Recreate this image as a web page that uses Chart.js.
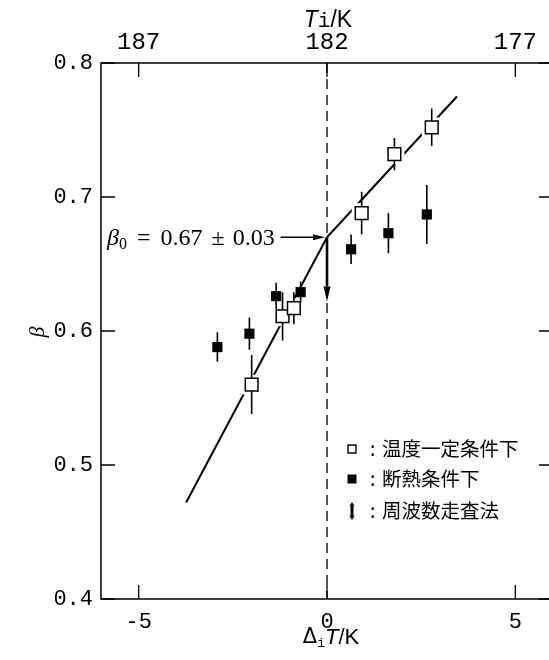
<!DOCTYPE html>
<html>
<head>
<meta charset="utf-8">
<script src="https://cdn.jsdelivr.net/npm/chart.js@4.4.1/dist/chart.umd.min.js"></script>
<style>
  html, body { margin: 0; padding: 0; overflow: hidden; background: #fff; }
</style>
</head>
<body>
<canvas id="grafica" width="553" height="660"></canvas>
<script>
//温度一定条件下 (cuadrados abiertos)
const constDT = [-2.00, -1.18, -0.88, 0.92, 1.79, 2.78];
const constBeta = [0.560, 0.611, 0.617, 0.688, 0.732, 0.752];
const constErr = [0.022, 0.018, 0.012, 0.016, 0.012, 0.014];

// 断熱条件下 (cuadrados llenos)
const adiaDT = [-2.91, -2.06, -1.35, -0.70, 0.64, 1.63, 2.65];
const adiaBeta = [0.588, 0.598, 0.626, 0.629, 0.661, 0.673, 0.687];
const adiaErr = [0.011, 0.012, 0.010, 0.008, 0.011, 0.015, 0.022];

// rectas de ajuste
const fitLowDT = [-3.74, 0];
const fitLowBeta = [0.472, 0.67];
const fitHighDT = [0, 3.45];
const fitHighBeta = [0.67, 0.775];

// beta0 y barrido de frecuencia
const beta0 = 0.67;
const beta0Err = 0.03;
const freqScanEnd = 0.622;

// ejes
const xTicks = [-5, 0, 5];
const yTicks = [0.4, 0.5, 0.6, 0.7, 0.8];
const Tcentro = 182;

const leyendaTextos = ["温度一定条件下", "断熱条件下", "周波数走査法"];

function puntos(xs, ys) {
  return xs.map((x, i) => ({ x: x, y: ys[i] }));
}

// barras de error como segmentos separados por huecos
function barras(xs, ys, es) {
  const d = [];
  xs.forEach((x, i) => {
    d.push({ x: x, y: ys[i] - es[i] });
    d.push({ x: x, y: ys[i] + es[i] });
    d.push({ x: x, y: null });
  });
  return d;
}

function flecha(ctx, x1, y1, x2, y2, largo, ancho, grosor) {
  const ang = Math.atan2(y2 - y1, x2 - x1);
  const bx = x2 - Math.cos(ang) * largo;
  const by = y2 - Math.sin(ang) * largo;
  ctx.save();
  ctx.lineWidth = grosor;
  ctx.beginPath();
  ctx.moveTo(x1, y1);
  ctx.lineTo(bx, by);
  ctx.stroke();
  ctx.beginPath();
  ctx.moveTo(x2, y2);
  ctx.lineTo(bx - Math.sin(ang) * ancho, by + Math.cos(ang) * ancho);
  ctx.lineTo(bx + Math.sin(ang) * ancho, by - Math.cos(ang) * ancho);
  ctx.closePath();
  ctx.fill();
  ctx.restore();
}

// texto con trozos de distinta fuente
function trozos(ctx, partes, x, y, alinear) {
  let total = 0;
  partes.forEach(p => { ctx.font = p.f; total += ctx.measureText(p.t).width + (p.gap || 0); });
  let cx = alinear === "center" ? x - total / 2 : alinear === "right" ? x - total : x;
  partes.forEach(p => {
    ctx.font = p.f;
    ctx.fillText(p.t, cx, y + (p.dy || 0));
    cx += ctx.measureText(p.t).width + (p.gap || 0);
  });
  return cx;
}

const dibujos = {
  id: "dibujos",
  beforeDatasetsDraw(chart) {
    const ctx = chart.ctx;
    const x = chart.scales.x, y = chart.scales.y;
    ctx.save();
    ctx.strokeStyle = "#000";
    ctx.lineWidth = 1.3;
    ctx.setLineDash([10, 6]);
    ctx.beginPath();
    ctx.moveTo(x.getPixelForValue(0), y.getPixelForValue(0.8));
    ctx.lineTo(x.getPixelForValue(0), y.getPixelForValue(0.4));
    ctx.stroke();
    ctx.restore();
  },
  afterDatasetsDraw(chart) {
    const ctx = chart.ctx;
    const a = chart.chartArea;
    const x = chart.scales.x, y = chart.scales.y;
    ctx.save();
    ctx.strokeStyle = "#000";
    ctx.fillStyle = "#000";

    // marco
    ctx.lineWidth = 1.5;
    ctx.strokeRect(a.left, a.top, a.right - a.left, a.bottom - a.top);

    // marcas hacia dentro
    ctx.lineWidth = 1.3;
    ctx.beginPath();
    xTicks.forEach(v => {
      const px = x.getPixelForValue(v);
      ctx.moveTo(px, a.bottom); ctx.lineTo(px, a.bottom - 14);
      ctx.moveTo(px, a.top); ctx.lineTo(px, a.top + 14);
    });
    yTicks.forEach(v => {
      const py = y.getPixelForValue(v);
      ctx.moveTo(a.left, py); ctx.lineTo(a.left + 14, py);
      ctx.moveTo(a.right, py); ctx.lineTo(a.right - 14, py);
    });
    ctx.stroke();

    // flecha vertical (barrido de frecuencia)
    const x0 = x.getPixelForValue(0);
    const yb = y.getPixelForValue(beta0);
    flecha(ctx, x0, yb, x0, y.getPixelForValue(freqScanEnd), 15, 3.5, 2.6);

    // texto beta0
    ctx.textBaseline = "alphabetic";
    const fin = trozos(ctx, [
      { t: "β", f: "italic 24px 'Liberation Serif'" },
      { t: "0", f: "16px 'Liberation Serif'", dy: 4, gap: 10 },
      { t: "=", f: "24px 'Liberation Serif'", gap: 10 },
      { t: beta0.toFixed(2), f: "24px 'Liberation Serif'", gap: 9 },
      { t: "±", f: "24px 'Liberation Serif'", gap: 8 },
      { t: beta0Err.toFixed(2), f: "24px 'Liberation Serif'" }
    ], 107, yb + 8, "left");
    flecha(ctx, fin + 6, yb, x0 - 2, yb, 12, 3, 1.5);

    // títulos de ejes
    ctx.textBaseline = "middle";
    trozos(ctx, [
      { t: "T", f: "italic 23px 'Liberation Sans'" },
      { t: "i", f: "21px 'Liberation Mono'" },
      { t: "/K", f: "23px 'Liberation Sans'" }
    ], 328, 21, "center");
    trozos(ctx, [
      { t: "Δ", f: "21px 'DejaVu Sans'" },
      { t: "i", f: "13px 'Liberation Mono'", dy: 6 },
      { t: "T", f: "italic 22px 'Liberation Sans'" },
      { t: "/K", f: "22px 'Liberation Sans'" }
    ], 331, 638, "center");
    ctx.save();
    ctx.translate(38, 332);
    ctx.rotate(-Math.PI / 2);
    ctx.font = "italic 22px 'Liberation Serif'";
    ctx.textAlign = "center";
    ctx.fillText("β", 0, 0);
    ctx.restore();

    // leyenda
    const ly = [449, 479, 511];
    const mx = 352;
    ctx.lineWidth = 1.4;
    ctx.strokeRect(mx - 4, ly[0] - 4, 8, 8);
    ctx.fillRect(mx - 4.5, ly[1] - 4.5, 9, 9);
    flecha(ctx, mx, ly[2], mx, ly[2] - 9, 4, 2.5, 3);
    flecha(ctx, mx, ly[2], mx, ly[2] + 9, 4, 2.5, 3);
    ctx.font = "19.5px 'Noto Sans CJK JP'";
    leyendaTextos.forEach((t, i) => {
      ctx.fillText(":", 370, ly[i]);
      ctx.fillText(t, 382, ly[i]);
    });
    ctx.restore();
  }
};

const fuenteTicks = { family: "'Liberation Mono', monospace", size: 22 };

function crearConfig() {
  return {
    type: "scatter",
    data: {
      datasets: [
        {
          data: puntos(constDT, constBeta),
          pointStyle: "rect", pointRadius: 9, pointHoverRadius: 9,
          backgroundColor: "#fff", borderColor: "#000", borderWidth: 1.5,
          order: 1
        },
        {
          data: puntos(adiaDT, adiaBeta),
          pointStyle: "rect", pointRadius: 7.2, pointHoverRadius: 7.2,
          backgroundColor: "#000", borderColor: "#000", borderWidth: 0,
          order: 2
        },
        {
          data: barras(constDT, constBeta, constErr).concat(barras(adiaDT, adiaBeta, adiaErr)),
          showLine: true, spanGaps: false, pointRadius: 0,
          borderColor: "#000", borderWidth: 1.6,
          order: 3
        },
        {
          data: puntos(constDT, constBeta),
          pointStyle: "rect", pointRadius: 14, pointHoverRadius: 14,
          backgroundColor: "#fff", borderWidth: 0,
          order: 4
        },
        {
          data: puntos(fitLowDT, fitLowBeta),
          showLine: true, pointRadius: 0, borderColor: "#000", borderWidth: 2,
          order: 5
        },
        {
          data: puntos(fitHighDT, fitHighBeta),
          showLine: true, pointRadius: 0, borderColor: "#000", borderWidth: 2,
          order: 5
        }
      ]
    },
    options: {
      responsive: false,
      animation: false,
      devicePixelRatio: 1,
      layout: { padding: 0 },
      plugins: { legend: { display: false }, tooltip: { enabled: false } },
      scales: {
        x: {
          type: "linear", position: "bottom", min: -6, max: 6,
          afterBuildTicks: s => { s.ticks = xTicks.map(v => ({ value: v })); },
          afterFit: s => { s.height = 61; },
          grid: { display: false, drawTicks: false },
          border: { display: false },
          ticks: { font: fuenteTicks, color: "#000", padding: 10, callback: v => String(v) }
        },
        x2: {
          type: "linear", axis: "x", position: "top", min: -6, max: 6,
          afterBuildTicks: s => { s.ticks = xTicks.map(v => ({ value: v })); },
          afterFit: s => { s.height = 63; },
          grid: { display: false, drawTicks: false },
          border: { display: false },
          ticks: { font: { family: "'Liberation Mono', monospace", size: 24 }, color: "#000", padding: 6, callback: v => String(Tcentro - v) }
        },
        y: {
          type: "linear", position: "left", min: 0.4, max: 0.8,
          afterBuildTicks: s => { s.ticks = yTicks.map(v => ({ value: v })); },
          afterFit: s => { s.width = 101; },
          grid: { display: false, drawTicks: false },
          border: { display: false },
          ticks: { font: fuenteTicks, color: "#000", padding: 8, callback: v => v.toFixed(1) }
        }
      }
    },
    plugins: [dibujos]
  };
}

// el eje derecho tiene que quedar en x = 553 (fuera de la ventana)
const lienzo = document.getElementById("grafica");
let grafica = new Chart(lienzo, crearConfig());
for (let i = 0; i < 3; i++) {
  const sobra = 553 - grafica.chartArea.right;
  if (Math.abs(sobra) < 0.5) break;
  const ancho = grafica.width + sobra;
  grafica.destroy();
  lienzo.width = ancho;
  lienzo.height = 660;
  grafica = new Chart(lienzo, crearConfig());
}
</script>
</body>
</html>
